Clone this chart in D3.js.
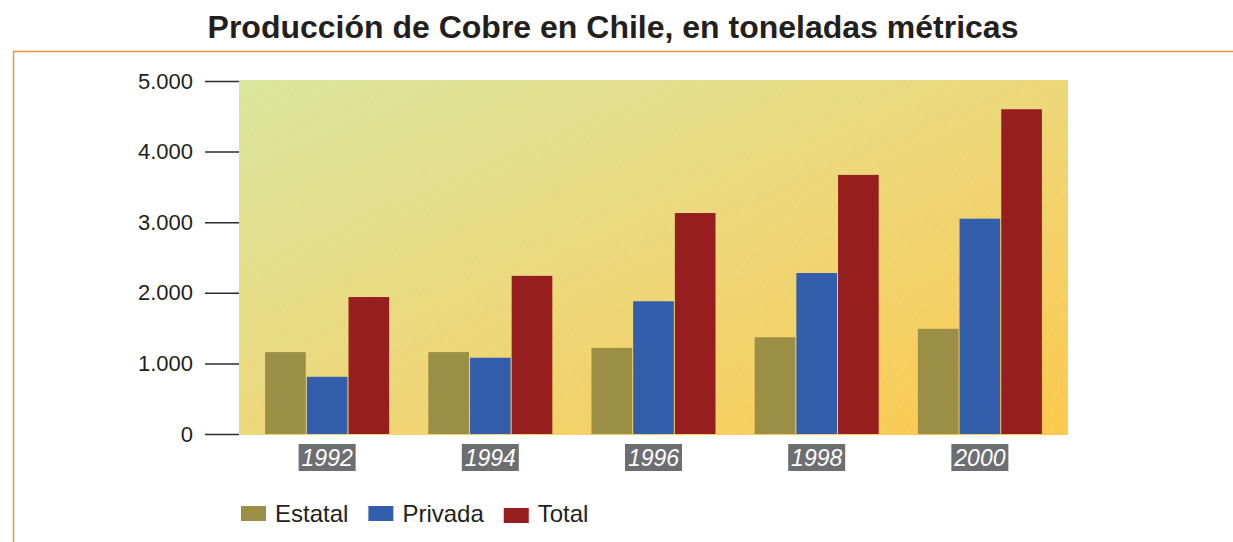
<!DOCTYPE html>
<html>
<head>
<meta charset="utf-8">
<script src="https://d3js.org/d3.v7.min.js"></script>
<style>
  body { margin: 0; background: #fff; }
  svg { display: block; font-family: "Liberation Sans", Arial, Helvetica, sans-serif; }
</style>
</head>
<body>
<svg width="1233" height="542"></svg>
<script>
// Data
const years = ["1992", "1994", "1996", "1998", "2000"];
const series = ["Estatal", "Privada", "Total"];
const estatal = [1160, 1160, 1220, 1370, 1490];
const privada = [810, 1080, 1880, 2280, 3050];
const total = [1940, 2240, 3130, 3670, 4600];
const yTicks = [0, 1000, 2000, 3000, 4000, 5000];
const colors = ["#9a8f45", "#335eab", "#971e1f"];

const rows = years.map((y, i) => ({ year: y, values: [estatal[i], privada[i], total[i]] }));

const svg = d3.select("svg");
const plot = { left: 239, right: 1068, top: 81, bottom: 434 };

// Scales
const x0 = d3.scaleBand()
    .domain(years)
    .range([plot.left, plot.right])
    .paddingInner(0.24)
    .paddingOuter(0.16);

const x1 = d3.scaleBand()
    .domain(series)
    .range([0, x0.bandwidth()])
    .paddingInner(0.025);

const y = d3.scaleLinear()
    .domain([0, 5000])
    .range([plot.bottom, plot.top]);

const color = d3.scaleOrdinal().domain(series).range(colors);

// Background gradient + hatch
const defs = svg.append("defs");
const grad = defs.append("linearGradient")
    .attr("id", "bg")
    .attr("x1", "0").attr("y1", "0").attr("x2", "1").attr("y2", "1");
grad.append("stop").attr("offset", "0%").attr("stop-color", "#d9e69d");
grad.append("stop").attr("offset", "45%").attr("stop-color", "#ebd97e");
grad.append("stop").attr("offset", "100%").attr("stop-color", "#fdc84d");

const hatch = defs.append("pattern")
    .attr("id", "hatch")
    .attr("patternUnits", "userSpaceOnUse")
    .attr("width", 10).attr("height", 10)
    .attr("patternTransform", "rotate(35)");
hatch.append("line")
    .attr("x1", 0).attr("y1", 0).attr("x2", 0).attr("y2", 10)
    .attr("stroke", "#ffffff")
    .attr("stroke-opacity", 0.25)
    .attr("stroke-width", 0.8)
    .attr("stroke-dasharray", "3 2");

svg.append("rect")
    .attr("x", plot.left).attr("y", plot.top - 1)
    .attr("width", plot.right - plot.left)
    .attr("height", plot.bottom - plot.top + 2)
    .attr("fill", "url(#bg)");
svg.append("rect")
    .attr("x", plot.left).attr("y", plot.top - 1)
    .attr("width", plot.right - plot.left)
    .attr("height", plot.bottom - plot.top + 2)
    .attr("fill", "url(#hatch)");

// Frame lines
svg.append("path")
    .attr("d", "M13.5,542 V51.5 H1233")
    .attr("fill", "none")
    .attr("stroke", "#e5973c")
    .attr("stroke-width", 1.5);

// Title
svg.append("text")
    .attr("x", 613)
    .attr("y", 38)
    .attr("text-anchor", "middle")
    .attr("font-size", 32)
    .attr("font-weight", "bold")
    .attr("fill", "#231f20")
    .text("Producción de Cobre en Chile, en toneladas métricas");

// Y axis
const fmt = d3.formatLocale({ decimal: ",", thousands: ".", grouping: [3], currency: ["", ""] }).format(",");
const yAxis = d3.axisLeft(y)
    .tickValues(yTicks)
    .tickFormat(fmt)
    .tickSize(34)
    .tickPadding(12);

const gy = svg.append("g")
    .attr("transform", `translate(${plot.left},0)`)
    .call(yAxis);
gy.select(".domain").remove();
gy.selectAll(".tick line").attr("stroke", "#2b2b2b").attr("stroke-width", 1.5);
gy.selectAll(".tick text")
    .attr("font-size", 22)
    .attr("fill", "#231f20")
    .attr("font-family", "Liberation Sans, Arial, sans-serif");

// Bars
const groups = svg.append("g")
    .selectAll("g")
    .data(rows)
    .join("g")
    .attr("transform", d => `translate(${x0(d.year)},0)`);

groups.selectAll("rect")
    .data(d => series.map((s, i) => ({ key: s, value: d.values[i] })))
    .join("rect")
    .attr("x", d => x1(d.key))
    .attr("y", d => y(d.value))
    .attr("width", x1.bandwidth())
    .attr("height", d => y(0) - y(d.value))
    .attr("fill", d => color(d.key));

// X labels in grey boxes
const xl = svg.append("g")
    .selectAll("g")
    .data(years)
    .join("g")
    .attr("transform", d => `translate(${x0(d) + x0.bandwidth() / 2},0)`);

xl.append("rect")
    .attr("x", -28.5)
    .attr("y", 444)
    .attr("width", 57)
    .attr("height", 27)
    .attr("fill", "#6d6e71");

xl.append("text")
    .attr("y", 466)
    .attr("text-anchor", "middle")
    .attr("font-size", 23)
    .attr("font-style", "italic")
    .attr("fill", "#ffffff")
    .text(d => d);

// Legend
const legend = svg.append("g").attr("transform", "translate(241,0)");
let lx = 0;
series.forEach((s, i) => {
    const item = legend.append("g").attr("transform", `translate(${lx},0)`);
    item.append("rect")
        .attr("x", 0)
        .attr("y", i === 2 ? 508 : 506)
        .attr("width", 25)
        .attr("height", 15)
        .attr("fill", color(s));
    const t = item.append("text")
        .attr("x", 34)
        .attr("y", 522)
        .attr("font-size", 24)
        .attr("fill", "#231f20")
        .text(s);
    lx += 34 + t.node().getComputedTextLength() + 20;
});
</script>
</body>
</html>
